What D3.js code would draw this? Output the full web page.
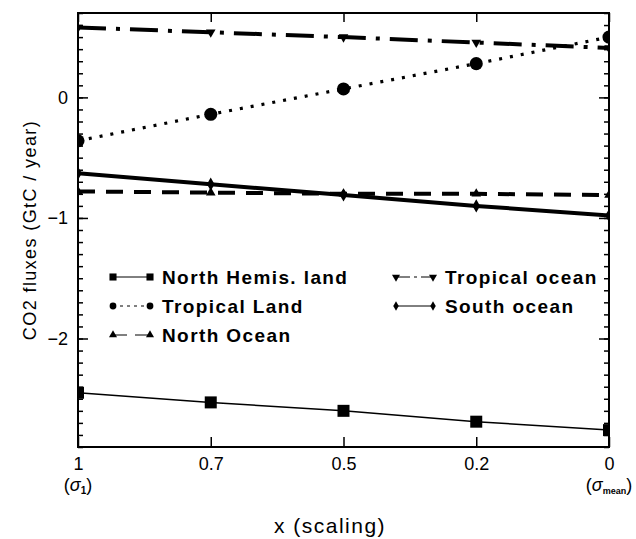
<!DOCTYPE html>
<html>
<head>
<meta charset="utf-8">
<script src="https://cdn.jsdelivr.net/npm/d3@7"></script>
<style>
  body { margin: 0; background: #fff; }
  text { fill: #000; }
</style>
</head>
<body>
<div id="chart"></div>
<script>
var WIDTH = 636, HEIGHT = 539;
var margin = {top: 13, left: 78, right: 27, bottom: 92};
var plotW = WIDTH - margin.left - margin.right,
    plotH = HEIGHT - margin.top - margin.bottom;

// data
var xLabels = ["1", "0.7", "0.5", "0.2", "0"];
var northHemisLand = [-2.45, -2.53, -2.60, -2.69, -2.76];
var tropicalLand   = [-0.36, -0.14, 0.07, 0.28, 0.50];
var northOcean     = [-0.78, -0.79, -0.80, -0.80, -0.81];
var tropicalOcean  = [0.58, 0.54, 0.50, 0.455, 0.41];
var southOcean     = [-0.63, -0.72, -0.81, -0.90, -0.98];
var yMajorTicks = [-2, -1, 0];

var series = [
    {name: "North Hemis. land", values: northHemisLand, symbol: d3.symbolSquare, size: 144, rot: 0,
     width: 1.5, dash: null, legDash: null, legSize: 50},
    {name: "Tropical Land", values: tropicalLand, symbol: d3.symbolCircle, size: 135, rot: 0,
     width: 3.2, dash: "3,8", legDash: "3,4", legSize: 36},
    {name: "North Ocean", values: northOcean, symbol: d3.symbolTriangle, size: 40, rot: 0,
     width: 4, dash: "17,11", legDash: "14,8", legSize: 28},
    {name: "Tropical ocean", values: tropicalOcean, symbol: d3.symbolTriangle, size: 40, rot: 180,
     width: 4, dash: "28,10,4,10", legDash: "14,4,3,4", legSize: 28},
    {name: "South ocean", values: southOcean, symbol: d3.symbolDiamond, size: 50, rot: 0,
     width: 4, dash: null, legDash: null, legSize: 26}
];

var svg = d3.select("#chart").append("svg")
    .attr("width", WIDTH)
    .attr("height", HEIGHT)
    .attr("font-family", "Liberation Sans, Arial, sans-serif");

var g = svg.append("g")
    .attr("transform", "translate(" + margin.left + "," + margin.top + ")");

var x = d3.scalePoint().domain(xLabels).range([0, plotW]);
var y = d3.scaleLinear().domain([-2.9, 0.7]).range([plotH, 0]);

g.append("clipPath").attr("id", "clip")
  .append("rect").attr("width", plotW).attr("height", plotH);

// axes, ticks pointing inward
var minorVals = d3.range(-29, 8).map(function(d) { return d / 10; });

function styleAxis(sel) {
    sel.select(".domain").remove();
    sel.selectAll(".tick line").attr("stroke", "#000").attr("stroke-width", 1.5);
    sel.selectAll("text").attr("font-size", 18).attr("fill", "#000");
}

g.append("g")
    .call(d3.axisLeft(y).tickValues(minorVals).tickSize(-5).tickFormat(""))
    .call(styleAxis);
g.append("g")
    .call(d3.axisLeft(y).tickValues(yMajorTicks).tickSize(-10).tickPadding(10).tickFormat(d3.format("d")))
    .call(styleAxis);
g.append("g").attr("transform", "translate(" + plotW + ",0)")
    .call(d3.axisRight(y).tickValues(minorVals).tickSize(-5).tickFormat(""))
    .call(styleAxis);
g.append("g").attr("transform", "translate(" + plotW + ",0)")
    .call(d3.axisRight(y).tickValues(yMajorTicks).tickSize(-10).tickFormat(""))
    .call(styleAxis);
g.append("g").attr("transform", "translate(0," + plotH + ")")
    .call(d3.axisBottom(x).tickSize(-10).tickPadding(10))
    .call(styleAxis);
g.append("g")
    .call(d3.axisTop(x).tickSize(-9).tickFormat(""))
    .call(styleAxis);

// sigma sub labels under first and last tick
function sigmaLabel(xv, sub, subSize) {
    var t = g.append("text")
        .attr("x", x(xv))
        .attr("y", plotH + 44)
        .attr("text-anchor", "middle")
        .attr("font-size", 18);
    t.append("tspan").text("(");
    t.append("tspan").attr("font-style", "italic").text("\u03c3");
    t.append("tspan").attr("font-size", subSize).attr("font-weight", "bold").attr("dy", 3).text(sub);
    t.append("tspan").attr("dy", -3).text(")");
}
sigmaLabel("1", "1", 10);
sigmaLabel("0", "mean", 9);

// lines
var line = d3.line()
    .x(function(d, i) { return x(xLabels[i]); })
    .y(function(d) { return y(d); });

var plot = g.append("g").attr("clip-path", "url(#clip)");

series.forEach(function(s) {
    plot.append("path")
        .datum(s.values)
        .attr("fill", "none")
        .attr("stroke", "#000")
        .attr("stroke-width", s.width)
        .attr("stroke-dasharray", s.dash)
        .attr("d", line);
    plot.selectAll(null)
        .data(s.values)
        .enter()
        .append("path")
            .attr("d", d3.symbol().type(s.symbol).size(s.size))
            .attr("transform", function(d, i) {
                return "translate(" + x(xLabels[i]) + "," + y(d) + ") rotate(" + s.rot + ")";
            })
            .attr("fill", "#000");
});

// frame
g.append("rect")
    .attr("width", plotW)
    .attr("height", plotH)
    .attr("fill", "none")
    .attr("stroke", "#000")
    .attr("stroke-width", 2);

// legend
var legendPos = [
    {x: 35, y: 264}, {x: 35, y: 293}, {x: 35, y: 322},
    {x: 318, y: 264}, {x: 318, y: 293}
];

series.forEach(function(s, i) {
    var p = legendPos[i];
    var lg = g.append("g").attr("transform", "translate(" + p.x + "," + p.y + ")");
    lg.append("line")
        .attr("x1", 0).attr("x2", 37)
        .attr("stroke", "#000")
        .attr("stroke-width", 1)
        .attr("stroke-dasharray", s.legDash);
    [0, 37].forEach(function(mx) {
        lg.append("path")
            .attr("d", d3.symbol().type(s.symbol).size(s.legSize))
            .attr("transform", "translate(" + mx + ",0) rotate(" + s.rot + ")")
            .attr("fill", "#000");
    });
    lg.append("text")
        .attr("x", 49)
        .attr("dy", "0.36em")
        .attr("font-size", 19)
        .attr("font-weight", "bold")
        .attr("letter-spacing", "1.4px")
        .text(s.name);
});

// axis titles
svg.append("text")
    .attr("transform", "translate(36," + (margin.top + plotH / 2) + ") rotate(-90)")
    .attr("text-anchor", "middle")
    .attr("font-size", 18)
    .attr("letter-spacing", "1.4px")
    .text("CO2 fluxes (GtC / year)");

svg.append("text")
    .attr("x", 330)
    .attr("y", 533)
    .attr("text-anchor", "middle")
    .attr("font-size", 21)
    .attr("letter-spacing", "1.5px")
    .text("x (scaling)");
</script>
</body>
</html>
